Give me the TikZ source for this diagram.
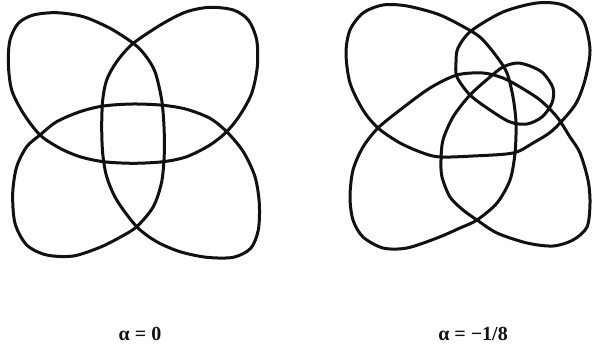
\documentclass[tikz,border=0pt]{standalone}
\usepackage{fontspec}
\setmainfont{Liberation Serif}
\usepackage{tikz}
\usetikzlibrary{positioning}
\definecolor{ink}{HTML}{111111}
\tikzset{
  orbit/.style={draw=ink, line width=3pt, line join=round},
  lbl/.style={font=\fontsize{20}{24}\selectfont\bfseries, text=ink, inner sep=1pt},
}
\begin{document}
\begin{tikzpicture}[x=1pt, y=-1pt]
  \useasboundingbox (0,0) rectangle (593,347);
  % alpha = 0
  \draw[orbit] plot[smooth cycle] coordinates {
    (133.3,43.3) (110,28.3) (83.3,16.7) (56.7,12.7) (33.3,15) (18.3,23.3) (10,40) (8.3,63.3)
    (11.7,90) (23.3,113.3) (40,135)
    (60,148.3) (80,156.7) (103.3,161.7) (133.3,163.3) (163.3,161.7) (186.7,156.7) (210,145) (226.7,131.7)
    (240,115) (251.7,93.3) (257.3,66.7) (256.7,40) (248.3,20) (233.3,10) (210,7.3) (186.7,11.7) (163.3,23.3)
    (133.3,43.3)
    (116.7,61.7) (106.7,80) (102.7,100) (101.7,126.7) (102.7,153.3) (106.7,176.7) (116.7,200) (136.7,226.7)
    (156.7,241.7) (180,251.7) (206.7,257.3) (233.3,257.3) (250.7,248.3) (258.3,230) (259.3,203.3) (255,176.7) (243.3,151.7)
    (226.7,131.7)
    (210,118.3) (186.7,109.3) (163.3,105.3) (133.3,104) (103.3,106) (80,111.7) (56.7,121.7)
    (40,135)
    (26.7,146.7) (16.7,166.7) (12.7,193.3) (15,223.3) (26.7,245) (46.7,255) (73.3,256) (100,247.3) (120,237.3)
    (136.7,226.7)
    (153.3,206.7) (161.7,181.7) (164.3,153.3) (164,126.7) (161.7,100) (155,71.7) (145,55)};
  % alpha = -1/8
  \draw[orbit] plot[smooth cycle] coordinates {
    (471,31) (440,15) (407,6) (383,5) (363,13) (350,30) (346,53) (350,83) (363,110) (378,128)
    (400,143) (423,153) (440,157) (473,156) (513,153) (533,143) (553,130)
    (575,105) (585,80) (590,50) (583,20) (563,5) (537,3) (503,12)
    (471,31)
    (458,48) (456,62) (457,77) (470,95) (490,110) (510,122) (527,124) (542,117) (552,103) (553,88)
    (543,73) (530,66) (517,63) (503,67) (490,77) (470,95) (453,117) (443,140) (441,160) (442,177)
    (450,197) (463,210) (477,220)
    (497,233) (527,243) (553,246) (573,240) (587,227) (590,203) (588,180) (580,153) (570,137)
    (557,117) (540,100) (520,87) (503,78) (483,73) (457,75) (430,88) (400,110) (378,128)
    (363,147) (353,170) (350,197) (353,220) (363,237) (383,248) (407,248) (437,238) (460,228)
    (477,220)
    (497,203) (510,180) (515,153) (516,123) (513,97) (507,73) (497,57) (483,40)};
  \node[lbl] (lab0) at (140,334) {α = 0};
  \node[lbl] (lab1) at (473,334) {α = −1/8};
\end{tikzpicture}
\end{document}
